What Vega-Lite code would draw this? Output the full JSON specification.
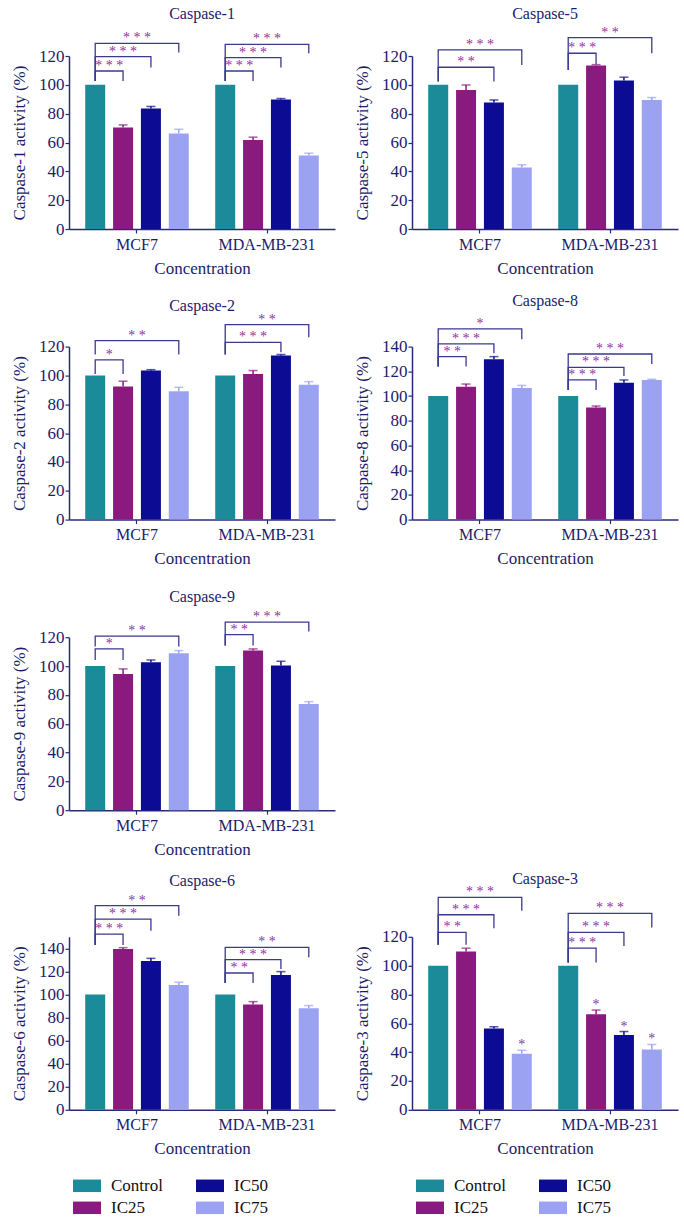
{
"$schema": "https://vega.github.io/schema/vega-lite/v6.json",
"padding": {"left": 10, "top": 5, "right": 3, "bottom": 5},
"datasets": {
"bars": [
{"p":"1","cell":"MCF7","g":"Control","v":100},
{"p":"1","cell":"MCF7","g":"IC25","v":70.4,"hi":72.2},
{"p":"1","cell":"MCF7","g":"IC50","v":83.6,"hi":85},
{"p":"1","cell":"MCF7","g":"IC75","v":66.3,"hi":69.2},
{"p":"1","cell":"MDA-MB-231","g":"Control","v":100},
{"p":"1","cell":"MDA-MB-231","g":"IC25","v":61.8,"hi":63.7},
{"p":"1","cell":"MDA-MB-231","g":"IC50","v":89.8,"hi":90.5},
{"p":"1","cell":"MDA-MB-231","g":"IC75","v":51,"hi":52.6},
{"p":"5","cell":"MCF7","g":"Control","v":100},
{"p":"5","cell":"MCF7","g":"IC25","v":96.5,"hi":99.9},
{"p":"5","cell":"MCF7","g":"IC50","v":87.7,"hi":89.5},
{"p":"5","cell":"MCF7","g":"IC75","v":42.7,"hi":44.5},
{"p":"5","cell":"MDA-MB-231","g":"Control","v":100},
{"p":"5","cell":"MDA-MB-231","g":"IC25","v":113.4,"hi":114},
{"p":"5","cell":"MDA-MB-231","g":"IC50","v":103,"hi":105.3},
{"p":"5","cell":"MDA-MB-231","g":"IC75","v":89.5,"hi":91.2},
{"p":"2","cell":"MCF7","g":"Control","v":100},
{"p":"2","cell":"MCF7","g":"IC25","v":92.3,"hi":96},
{"p":"2","cell":"MCF7","g":"IC50","v":103.4,"hi":104},
{"p":"2","cell":"MCF7","g":"IC75","v":89,"hi":91.8},
{"p":"2","cell":"MDA-MB-231","g":"Control","v":100},
{"p":"2","cell":"MDA-MB-231","g":"IC25","v":101,"hi":103.4},
{"p":"2","cell":"MDA-MB-231","g":"IC50","v":113.8,"hi":114.5},
{"p":"2","cell":"MDA-MB-231","g":"IC75","v":93.6,"hi":95.7},
{"p":"8","cell":"MCF7","g":"Control","v":100},
{"p":"8","cell":"MCF7","g":"IC25","v":107.6,"hi":109.7},
{"p":"8","cell":"MCF7","g":"IC50","v":129.7,"hi":131.9},
{"p":"8","cell":"MCF7","g":"IC75","v":106.5,"hi":108.6},
{"p":"8","cell":"MDA-MB-231","g":"Control","v":100},
{"p":"8","cell":"MDA-MB-231","g":"IC25","v":90.8,"hi":91.9},
{"p":"8","cell":"MDA-MB-231","g":"IC50","v":110.8,"hi":113},
{"p":"8","cell":"MDA-MB-231","g":"IC75","v":113,"hi":113.6},
{"p":"9","cell":"MCF7","g":"Control","v":100},
{"p":"9","cell":"MCF7","g":"IC25","v":94.5,"hi":98},
{"p":"9","cell":"MCF7","g":"IC50","v":102.6,"hi":104.2},
{"p":"9","cell":"MCF7","g":"IC75","v":108.9,"hi":110.7},
{"p":"9","cell":"MDA-MB-231","g":"Control","v":100},
{"p":"9","cell":"MDA-MB-231","g":"IC25","v":110.7,"hi":111.9},
{"p":"9","cell":"MDA-MB-231","g":"IC50","v":100.3,"hi":103.3},
{"p":"9","cell":"MDA-MB-231","g":"IC75","v":73.7,"hi":75.3},
{"p":"6","cell":"MCF7","g":"Control","v":100},
{"p":"6","cell":"MCF7","g":"IC25","v":139.4,"hi":140.6},
{"p":"6","cell":"MCF7","g":"IC50","v":129,"hi":131.3},
{"p":"6","cell":"MCF7","g":"IC75","v":108.3,"hi":110.6},
{"p":"6","cell":"MDA-MB-231","g":"Control","v":100},
{"p":"6","cell":"MDA-MB-231","g":"IC25","v":91.2,"hi":93.8},
{"p":"6","cell":"MDA-MB-231","g":"IC50","v":116.9,"hi":119.8},
{"p":"6","cell":"MDA-MB-231","g":"IC75","v":88,"hi":90.4},
{"p":"3","cell":"MCF7","g":"Control","v":100},
{"p":"3","cell":"MCF7","g":"IC25","v":109.8,"hi":112.1},
{"p":"3","cell":"MCF7","g":"IC50","v":56.4,"hi":57.6},
{"p":"3","cell":"MCF7","g":"IC75","v":38.8,"hi":41.3},
{"p":"3","cell":"MDA-MB-231","g":"Control","v":100},
{"p":"3","cell":"MDA-MB-231","g":"IC25","v":66.2,"hi":69.2},
{"p":"3","cell":"MDA-MB-231","g":"IC50","v":51.8,"hi":54.3},
{"p":"3","cell":"MDA-MB-231","g":"IC75","v":41.8,"hi":45.3}
],
"brk": [
{"p":"1","cell":"MCF7","id":"m1","o":1,"s":"Control","v":102.7},{"p":"1","cell":"MCF7","id":"m1","o":2,"s":"Control","v":109.6},{"p":"1","cell":"MCF7","id":"m1","o":3,"s":"IC25","v":109.6},{"p":"1","cell":"MCF7","id":"m1","o":4,"s":"IC25","v":102.7},
{"p":"1","cell":"MCF7","id":"m2","o":1,"s":"Control","v":102.7},{"p":"1","cell":"MCF7","id":"m2","o":2,"s":"Control","v":119.6},{"p":"1","cell":"MCF7","id":"m2","o":3,"s":"IC50","v":119.6},{"p":"1","cell":"MCF7","id":"m2","o":4,"s":"IC50","v":112},
{"p":"1","cell":"MCF7","id":"m3","o":1,"s":"Control","v":102.7},{"p":"1","cell":"MCF7","id":"m3","o":2,"s":"Control","v":128.8},{"p":"1","cell":"MCF7","id":"m3","o":3,"s":"IC75","v":128.8},{"p":"1","cell":"MCF7","id":"m3","o":4,"s":"IC75","v":122.4},
{"p":"1","cell":"MDA-MB-231","id":"d1","o":1,"s":"Control","v":102.7},{"p":"1","cell":"MDA-MB-231","id":"d1","o":2,"s":"Control","v":109.6},{"p":"1","cell":"MDA-MB-231","id":"d1","o":3,"s":"IC25","v":109.6},{"p":"1","cell":"MDA-MB-231","id":"d1","o":4,"s":"IC25","v":102.7},
{"p":"1","cell":"MDA-MB-231","id":"d2","o":1,"s":"Control","v":102.7},{"p":"1","cell":"MDA-MB-231","id":"d2","o":2,"s":"Control","v":118.9},{"p":"1","cell":"MDA-MB-231","id":"d2","o":3,"s":"IC50","v":118.9},{"p":"1","cell":"MDA-MB-231","id":"d2","o":4,"s":"IC50","v":112},
{"p":"1","cell":"MDA-MB-231","id":"d3","o":1,"s":"Control","v":102.7},{"p":"1","cell":"MDA-MB-231","id":"d3","o":2,"s":"Control","v":128.1},{"p":"1","cell":"MDA-MB-231","id":"d3","o":3,"s":"IC75","v":128.1},{"p":"1","cell":"MDA-MB-231","id":"d3","o":4,"s":"IC75","v":121.9},
{"p":"5","cell":"MCF7","id":"m1","o":1,"s":"Control","v":102.3},{"p":"5","cell":"MCF7","id":"m1","o":2,"s":"Control","v":112.2},{"p":"5","cell":"MCF7","id":"m1","o":3,"s":"IC50","v":112.2},{"p":"5","cell":"MCF7","id":"m1","o":4,"s":"IC50","v":102.3},
{"p":"5","cell":"MCF7","id":"m2","o":1,"s":"Control","v":102.3},{"p":"5","cell":"MCF7","id":"m2","o":2,"s":"Control","v":124.2},{"p":"5","cell":"MCF7","id":"m2","o":3,"s":"IC75","v":124.2},{"p":"5","cell":"MCF7","id":"m2","o":4,"s":"IC75","v":113.8},
{"p":"5","cell":"MDA-MB-231","id":"d1","o":1,"s":"Control","v":110.3},{"p":"5","cell":"MDA-MB-231","id":"d1","o":2,"s":"Control","v":121.9},{"p":"5","cell":"MDA-MB-231","id":"d1","o":3,"s":"IC25","v":121.9},{"p":"5","cell":"MDA-MB-231","id":"d1","o":4,"s":"IC25","v":114.5},
{"p":"5","cell":"MDA-MB-231","id":"d2","o":1,"s":"Control","v":110.3},{"p":"5","cell":"MDA-MB-231","id":"d2","o":2,"s":"Control","v":132.8},{"p":"5","cell":"MDA-MB-231","id":"d2","o":3,"s":"IC75","v":132.8},{"p":"5","cell":"MDA-MB-231","id":"d2","o":4,"s":"IC75","v":121.9},
{"p":"2","cell":"MCF7","id":"m1","o":1,"s":"Control","v":101},{"p":"2","cell":"MCF7","id":"m1","o":2,"s":"Control","v":110.8},{"p":"2","cell":"MCF7","id":"m1","o":3,"s":"IC25","v":110.8},{"p":"2","cell":"MCF7","id":"m1","o":4,"s":"IC25","v":101},
{"p":"2","cell":"MCF7","id":"m2","o":1,"s":"Control","v":114.5},{"p":"2","cell":"MCF7","id":"m2","o":2,"s":"Control","v":124.2},{"p":"2","cell":"MCF7","id":"m2","o":3,"s":"IC75","v":124.2},{"p":"2","cell":"MCF7","id":"m2","o":4,"s":"IC75","v":114.5},
{"p":"2","cell":"MDA-MB-231","id":"d1","o":1,"s":"Control","v":114.5},{"p":"2","cell":"MDA-MB-231","id":"d1","o":2,"s":"Control","v":123},{"p":"2","cell":"MDA-MB-231","id":"d1","o":3,"s":"IC50","v":123},{"p":"2","cell":"MDA-MB-231","id":"d1","o":4,"s":"IC50","v":116},
{"p":"2","cell":"MDA-MB-231","id":"d2","o":1,"s":"Control","v":114.5},{"p":"2","cell":"MDA-MB-231","id":"d2","o":2,"s":"Control","v":135.3},{"p":"2","cell":"MDA-MB-231","id":"d2","o":3,"s":"IC75","v":135.3},{"p":"2","cell":"MDA-MB-231","id":"d2","o":4,"s":"IC75","v":126.5},
{"p":"8","cell":"MCF7","id":"m1","o":1,"s":"Control","v":123.8},{"p":"8","cell":"MCF7","id":"m1","o":2,"s":"Control","v":131.9},{"p":"8","cell":"MCF7","id":"m1","o":3,"s":"IC25","v":131.9},{"p":"8","cell":"MCF7","id":"m1","o":4,"s":"IC25","v":123.8},
{"p":"8","cell":"MCF7","id":"m2","o":1,"s":"Control","v":123.8},{"p":"8","cell":"MCF7","id":"m2","o":2,"s":"Control","v":142.2},{"p":"8","cell":"MCF7","id":"m2","o":3,"s":"IC50","v":142.2},{"p":"8","cell":"MCF7","id":"m2","o":4,"s":"IC50","v":134.6},
{"p":"8","cell":"MCF7","id":"m3","o":1,"s":"Control","v":123.8},{"p":"8","cell":"MCF7","id":"m3","o":2,"s":"Control","v":154.3},{"p":"8","cell":"MCF7","id":"m3","o":3,"s":"IC75","v":154.3},{"p":"8","cell":"MCF7","id":"m3","o":4,"s":"IC75","v":146},
{"p":"8","cell":"MDA-MB-231","id":"d1","o":1,"s":"Control","v":104.9},{"p":"8","cell":"MDA-MB-231","id":"d1","o":2,"s":"Control","v":113},{"p":"8","cell":"MDA-MB-231","id":"d1","o":3,"s":"IC25","v":113},{"p":"8","cell":"MDA-MB-231","id":"d1","o":4,"s":"IC25","v":104.9},
{"p":"8","cell":"MDA-MB-231","id":"d2","o":1,"s":"Control","v":104.9},{"p":"8","cell":"MDA-MB-231","id":"d2","o":2,"s":"Control","v":123.2},{"p":"8","cell":"MDA-MB-231","id":"d2","o":3,"s":"IC50","v":123.2},{"p":"8","cell":"MDA-MB-231","id":"d2","o":4,"s":"IC50","v":116.2},
{"p":"8","cell":"MDA-MB-231","id":"d3","o":1,"s":"Control","v":104.9},{"p":"8","cell":"MDA-MB-231","id":"d3","o":2,"s":"Control","v":134},{"p":"8","cell":"MDA-MB-231","id":"d3","o":3,"s":"IC75","v":134},{"p":"8","cell":"MDA-MB-231","id":"d3","o":4,"s":"IC75","v":126},
{"p":"9","cell":"MCF7","id":"m1","o":1,"s":"Control","v":104.2},{"p":"9","cell":"MCF7","id":"m1","o":2,"s":"Control","v":111.9},{"p":"9","cell":"MCF7","id":"m1","o":3,"s":"IC25","v":111.9},{"p":"9","cell":"MCF7","id":"m1","o":4,"s":"IC25","v":104.2},
{"p":"9","cell":"MCF7","id":"m2","o":1,"s":"Control","v":113.5},{"p":"9","cell":"MCF7","id":"m2","o":2,"s":"Control","v":120.7},{"p":"9","cell":"MCF7","id":"m2","o":3,"s":"IC75","v":120.7},{"p":"9","cell":"MCF7","id":"m2","o":4,"s":"IC75","v":113.5},
{"p":"9","cell":"MDA-MB-231","id":"d1","o":1,"s":"Control","v":114.2},{"p":"9","cell":"MDA-MB-231","id":"d1","o":2,"s":"Control","v":121.8},{"p":"9","cell":"MDA-MB-231","id":"d1","o":3,"s":"IC25","v":121.8},{"p":"9","cell":"MDA-MB-231","id":"d1","o":4,"s":"IC25","v":114.2},
{"p":"9","cell":"MDA-MB-231","id":"d2","o":1,"s":"Control","v":114.2},{"p":"9","cell":"MDA-MB-231","id":"d2","o":2,"s":"Control","v":130.4},{"p":"9","cell":"MDA-MB-231","id":"d2","o":3,"s":"IC75","v":130.4},{"p":"9","cell":"MDA-MB-231","id":"d2","o":4,"s":"IC75","v":123.9},
{"p":"6","cell":"MCF7","id":"m1","o":1,"s":"Control","v":142.9},{"p":"6","cell":"MCF7","id":"m1","o":2,"s":"Control","v":152.4},{"p":"6","cell":"MCF7","id":"m1","o":3,"s":"IC25","v":152.4},{"p":"6","cell":"MCF7","id":"m1","o":4,"s":"IC25","v":142.9},
{"p":"6","cell":"MCF7","id":"m2","o":1,"s":"Control","v":142.9},{"p":"6","cell":"MCF7","id":"m2","o":2,"s":"Control","v":165.4},{"p":"6","cell":"MCF7","id":"m2","o":3,"s":"IC50","v":165.4},{"p":"6","cell":"MCF7","id":"m2","o":4,"s":"IC50","v":155.3},
{"p":"6","cell":"MCF7","id":"m3","o":1,"s":"Control","v":142.9},{"p":"6","cell":"MCF7","id":"m3","o":2,"s":"Control","v":177},{"p":"6","cell":"MCF7","id":"m3","o":3,"s":"IC75","v":177},{"p":"6","cell":"MCF7","id":"m3","o":4,"s":"IC75","v":168.3},
{"p":"6","cell":"MDA-MB-231","id":"d1","o":1,"s":"Control","v":110},{"p":"6","cell":"MDA-MB-231","id":"d1","o":2,"s":"Control","v":118.6},{"p":"6","cell":"MDA-MB-231","id":"d1","o":3,"s":"IC25","v":118.6},{"p":"6","cell":"MDA-MB-231","id":"d1","o":4,"s":"IC25","v":110},
{"p":"6","cell":"MDA-MB-231","id":"d2","o":1,"s":"Control","v":110},{"p":"6","cell":"MDA-MB-231","id":"d2","o":2,"s":"Control","v":130.2},{"p":"6","cell":"MDA-MB-231","id":"d2","o":3,"s":"IC50","v":130.2},{"p":"6","cell":"MDA-MB-231","id":"d2","o":4,"s":"IC50","v":122.1},
{"p":"6","cell":"MDA-MB-231","id":"d3","o":1,"s":"Control","v":110},{"p":"6","cell":"MDA-MB-231","id":"d3","o":2,"s":"Control","v":140.9},{"p":"6","cell":"MDA-MB-231","id":"d3","o":3,"s":"IC75","v":140.9},{"p":"6","cell":"MDA-MB-231","id":"d3","o":4,"s":"IC75","v":132.2},
{"p":"3","cell":"MCF7","id":"m1","o":1,"s":"Control","v":114.4},{"p":"3","cell":"MCF7","id":"m1","o":2,"s":"Control","v":123},{"p":"3","cell":"MCF7","id":"m1","o":3,"s":"IC25","v":123},{"p":"3","cell":"MCF7","id":"m1","o":4,"s":"IC25","v":114.4},
{"p":"3","cell":"MCF7","id":"m2","o":1,"s":"Control","v":114.4},{"p":"3","cell":"MCF7","id":"m2","o":2,"s":"Control","v":135.3},{"p":"3","cell":"MCF7","id":"m2","o":3,"s":"IC50","v":135.3},{"p":"3","cell":"MCF7","id":"m2","o":4,"s":"IC50","v":126},
{"p":"3","cell":"MCF7","id":"m3","o":1,"s":"Control","v":114.4},{"p":"3","cell":"MCF7","id":"m3","o":2,"s":"Control","v":147.4},{"p":"3","cell":"MCF7","id":"m3","o":3,"s":"IC75","v":147.4},{"p":"3","cell":"MCF7","id":"m3","o":4,"s":"IC75","v":138.1},
{"p":"3","cell":"MDA-MB-231","id":"d1","o":1,"s":"Control","v":102.1},{"p":"3","cell":"MDA-MB-231","id":"d1","o":2,"s":"Control","v":112.1},{"p":"3","cell":"MDA-MB-231","id":"d1","o":3,"s":"IC25","v":112.1},{"p":"3","cell":"MDA-MB-231","id":"d1","o":4,"s":"IC25","v":102.1},
{"p":"3","cell":"MDA-MB-231","id":"d2","o":1,"s":"Control","v":102.1},{"p":"3","cell":"MDA-MB-231","id":"d2","o":2,"s":"Control","v":123},{"p":"3","cell":"MDA-MB-231","id":"d2","o":3,"s":"IC50","v":123},{"p":"3","cell":"MDA-MB-231","id":"d2","o":4,"s":"IC50","v":113.7},
{"p":"3","cell":"MDA-MB-231","id":"d3","o":1,"s":"Control","v":102.1},{"p":"3","cell":"MDA-MB-231","id":"d3","o":2,"s":"Control","v":136.3},{"p":"3","cell":"MDA-MB-231","id":"d3","o":3,"s":"IC75","v":136.3},{"p":"3","cell":"MDA-MB-231","id":"d3","o":4,"s":"IC75","v":126.5}
],
"star": [
{"p":"1","cell":"MCF7","s":"Control|IC25","v":109.6,"t":"* * *"},
{"p":"1","cell":"MCF7","s":"IC25","v":119.6,"t":"* * *"},
{"p":"1","cell":"MCF7","s":"IC25|IC50","v":128.8,"t":"* * *"},
{"p":"1","cell":"MDA-MB-231","s":"Control|IC25","v":109.6,"t":"* * *"},
{"p":"1","cell":"MDA-MB-231","s":"IC25","v":118.9,"t":"* * *"},
{"p":"1","cell":"MDA-MB-231","s":"IC25|IC50","v":128.1,"t":"* * *"},
{"p":"5","cell":"MCF7","s":"IC25","v":112.2,"t":"* *"},
{"p":"5","cell":"MCF7","s":"IC25|IC50","v":124.2,"t":"* * *"},
{"p":"5","cell":"MDA-MB-231","s":"Control|IC25","v":121.9,"t":"* * *"},
{"p":"5","cell":"MDA-MB-231","s":"IC25|IC50","v":132.8,"t":"* *"},
{"p":"2","cell":"MCF7","s":"Control|IC25","v":110.8,"t":"*"},
{"p":"2","cell":"MCF7","s":"IC25|IC50","v":124.2,"t":"* *"},
{"p":"2","cell":"MDA-MB-231","s":"IC25","v":123,"t":"* * *"},
{"p":"2","cell":"MDA-MB-231","s":"IC25|IC50","v":135.3,"t":"* *"},
{"p":"8","cell":"MCF7","s":"Control|IC25","v":131.9,"t":"* *"},
{"p":"8","cell":"MCF7","s":"IC25","v":142.2,"t":"* * *"},
{"p":"8","cell":"MCF7","s":"IC25|IC50","v":154.3,"t":"*"},
{"p":"8","cell":"MDA-MB-231","s":"Control|IC25","v":113,"t":"* * *"},
{"p":"8","cell":"MDA-MB-231","s":"IC25","v":123.2,"t":"* * *"},
{"p":"8","cell":"MDA-MB-231","s":"IC25|IC50","v":134,"t":"* * *"},
{"p":"9","cell":"MCF7","s":"Control|IC25","v":111.9,"t":"*"},
{"p":"9","cell":"MCF7","s":"IC25|IC50","v":120.7,"t":"* *"},
{"p":"9","cell":"MDA-MB-231","s":"Control|IC25","v":121.8,"t":"* *"},
{"p":"9","cell":"MDA-MB-231","s":"IC25|IC50","v":130.4,"t":"* * *"},
{"p":"6","cell":"MCF7","s":"Control|IC25","v":152.4,"t":"* * *"},
{"p":"6","cell":"MCF7","s":"IC25","v":165.4,"t":"* * *"},
{"p":"6","cell":"MCF7","s":"IC25|IC50","v":177,"t":"* *"},
{"p":"6","cell":"MDA-MB-231","s":"Control|IC25","v":118.6,"t":"* *"},
{"p":"6","cell":"MDA-MB-231","s":"IC25","v":130.2,"t":"* * *"},
{"p":"6","cell":"MDA-MB-231","s":"IC25|IC50","v":140.9,"t":"* *"},
{"p":"3","cell":"MCF7","s":"Control|IC25","v":123,"t":"* *"},
{"p":"3","cell":"MCF7","s":"IC25","v":135.3,"t":"* * *"},
{"p":"3","cell":"MCF7","s":"IC25|IC50","v":147.4,"t":"* * *"},
{"p":"3","cell":"MDA-MB-231","s":"Control|IC25","v":112.1,"t":"* * *"},
{"p":"3","cell":"MDA-MB-231","s":"IC25","v":123,"t":"* * *"},
{"p":"3","cell":"MDA-MB-231","s":"IC25|IC50","v":136.3,"t":"* * *"},
{"p":"3","cell":"MCF7","s":"IC75","v":41.3,"t":"*"},
{"p":"3","cell":"MDA-MB-231","s":"IC25","v":69.2,"t":"*"},
{"p":"3","cell":"MDA-MB-231","s":"IC50","v":54.3,"t":"*"},
{"p":"3","cell":"MDA-MB-231","s":"IC75","v":45.3,"t":"*"}
]
},
"concat": [
{"title": {"text": "Caspase-1", "offset": 9}, "width": 266, "height": 173, "layer": [
{"data": {"name": "bars"}, "transform": [{"filter": "datum.p == '1'"}], "mark": {"type": "bar", "size": 20},
 "encoding": {"x": {"field": "cell", "type": "nominal", "title": "Concentration", "sort": ["MCF7", "MDA-MB-231"], "scale": {"paddingInner": 0.25, "paddingOuter": 0.148}},
  "xOffset": {"field": "g", "type": "nominal", "scale": {"domain": ["Control", "Control|IC25", "IC25", "IC25|IC50", "IC50", "IC50|IC75", "IC75"], "paddingInner": 0, "paddingOuter": 0}},
  "y": {"field": "v", "type": "quantitative", "title": "Caspase-1 activity (%)", "scale": {"domain": [0, 120], "nice": false}, "axis": {"values": [0, 20, 40, 60, 80, 100, 120]}},
  "color": {"field": "g", "type": "nominal", "scale": {"domain": ["Control", "IC50", "IC25", "IC75"], "range": ["#1b8b99", "#0b0b93", "#8a1a7e", "#9ca2f2"]}, "legend": null}}},
{"data": {"name": "bars"}, "transform": [{"filter": "datum.p == '1' && isValid(datum.hi)"}], "mark": {"type": "rule", "strokeWidth": 1.5},
 "encoding": {"x": {"field": "cell", "type": "nominal", "title": "Concentration"}, "xOffset": {"field": "g", "type": "nominal"}, "y": {"field": "v", "type": "quantitative", "title": "Caspase-1 activity (%)", "axis": {"values": [0, 20, 40, 60, 80, 100, 120]}}, "y2": {"field": "hi"}, "color": {"field": "g", "type": "nominal", "legend": null}}},
{"data": {"name": "bars"}, "transform": [{"filter": "datum.p == '1' && isValid(datum.hi)"}], "mark": {"type": "tick", "orient": "horizontal", "size": 9, "thickness": 1.5},
 "encoding": {"x": {"field": "cell", "type": "nominal", "title": "Concentration"}, "xOffset": {"field": "g", "type": "nominal"}, "y": {"field": "hi", "type": "quantitative", "title": "Caspase-1 activity (%)", "axis": {"values": [0, 20, 40, 60, 80, 100, 120]}}, "color": {"field": "g", "type": "nominal", "legend": null}}},
{"data": {"name": "brk"}, "transform": [{"filter": "datum.p == '1'"}], "mark": {"type": "line", "color": "#3a3a90", "strokeWidth": 1.3},
 "encoding": {"x": {"field": "cell", "type": "nominal", "title": "Concentration"}, "xOffset": {"field": "s", "type": "nominal"}, "y": {"field": "v", "type": "quantitative", "title": "Caspase-1 activity (%)", "axis": {"values": [0, 20, 40, 60, 80, 100, 120]}}, "detail": {"field": "id"}, "order": {"field": "o"}}},
{"data": {"name": "star"}, "transform": [{"filter": "datum.p == '1'"}], "mark": {"type": "text", "font": "Liberation Serif", "fontSize": 14, "color": "#8e3299", "baseline": "alphabetic", "dy": -1},
 "encoding": {"x": {"field": "cell", "type": "nominal", "title": "Concentration"}, "xOffset": {"field": "s", "type": "nominal"}, "y": {"field": "v", "type": "quantitative", "title": "Caspase-1 activity (%)", "axis": {"values": [0, 20, 40, 60, 80, 100, 120]}}, "text": {"field": "t"}}}
]},
{"title": {"text": "Caspase-5", "offset": 4}, "width": 266, "height": 173, "layer": [
{"data": {"name": "bars"}, "transform": [{"filter": "datum.p == '5'"}], "mark": {"type": "bar", "size": 20},
 "encoding": {"x": {"field": "cell", "type": "nominal", "title": "Concentration", "sort": ["MCF7", "MDA-MB-231"], "scale": {"paddingInner": 0.25, "paddingOuter": 0.148}},
  "xOffset": {"field": "g", "type": "nominal", "scale": {"domain": ["Control", "Control|IC25", "IC25", "IC25|IC50", "IC50", "IC50|IC75", "IC75"], "paddingInner": 0, "paddingOuter": 0}},
  "y": {"field": "v", "type": "quantitative", "title": "Caspase-5 activity (%)", "scale": {"domain": [0, 120], "nice": false}, "axis": {"values": [0, 20, 40, 60, 80, 100, 120]}},
  "color": {"field": "g", "type": "nominal", "scale": {"domain": ["Control", "IC50", "IC25", "IC75"], "range": ["#1b8b99", "#0b0b93", "#8a1a7e", "#9ca2f2"]}, "legend": null}}},
{"data": {"name": "bars"}, "transform": [{"filter": "datum.p == '5' && isValid(datum.hi)"}], "mark": {"type": "rule", "strokeWidth": 1.5},
 "encoding": {"x": {"field": "cell", "type": "nominal", "title": "Concentration"}, "xOffset": {"field": "g", "type": "nominal"}, "y": {"field": "v", "type": "quantitative", "title": "Caspase-5 activity (%)", "axis": {"values": [0, 20, 40, 60, 80, 100, 120]}}, "y2": {"field": "hi"}, "color": {"field": "g", "type": "nominal", "legend": null}}},
{"data": {"name": "bars"}, "transform": [{"filter": "datum.p == '5' && isValid(datum.hi)"}], "mark": {"type": "tick", "orient": "horizontal", "size": 9, "thickness": 1.5},
 "encoding": {"x": {"field": "cell", "type": "nominal", "title": "Concentration"}, "xOffset": {"field": "g", "type": "nominal"}, "y": {"field": "hi", "type": "quantitative", "title": "Caspase-5 activity (%)", "axis": {"values": [0, 20, 40, 60, 80, 100, 120]}}, "color": {"field": "g", "type": "nominal", "legend": null}}},
{"data": {"name": "brk"}, "transform": [{"filter": "datum.p == '5'"}], "mark": {"type": "line", "color": "#3a3a90", "strokeWidth": 1.3},
 "encoding": {"x": {"field": "cell", "type": "nominal", "title": "Concentration"}, "xOffset": {"field": "s", "type": "nominal"}, "y": {"field": "v", "type": "quantitative", "title": "Caspase-5 activity (%)", "axis": {"values": [0, 20, 40, 60, 80, 100, 120]}}, "detail": {"field": "id"}, "order": {"field": "o"}}},
{"data": {"name": "star"}, "transform": [{"filter": "datum.p == '5'"}], "mark": {"type": "text", "font": "Liberation Serif", "fontSize": 14, "color": "#8e3299", "baseline": "alphabetic", "dy": -1},
 "encoding": {"x": {"field": "cell", "type": "nominal", "title": "Concentration"}, "xOffset": {"field": "s", "type": "nominal"}, "y": {"field": "v", "type": "quantitative", "title": "Caspase-5 activity (%)", "axis": {"values": [0, 20, 40, 60, 80, 100, 120]}}, "text": {"field": "t"}}}
]},
{"title": {"text": "Caspase-2", "offset": -1}, "width": 266, "height": 173, "layer": [
{"data": {"name": "bars"}, "transform": [{"filter": "datum.p == '2'"}], "mark": {"type": "bar", "size": 20},
 "encoding": {"x": {"field": "cell", "type": "nominal", "title": "Concentration", "sort": ["MCF7", "MDA-MB-231"], "scale": {"paddingInner": 0.25, "paddingOuter": 0.148}},
  "xOffset": {"field": "g", "type": "nominal", "scale": {"domain": ["Control", "Control|IC25", "IC25", "IC25|IC50", "IC50", "IC50|IC75", "IC75"], "paddingInner": 0, "paddingOuter": 0}},
  "y": {"field": "v", "type": "quantitative", "title": "Caspase-2 activity (%)", "scale": {"domain": [0, 120], "nice": false}, "axis": {"values": [0, 20, 40, 60, 80, 100, 120]}},
  "color": {"field": "g", "type": "nominal", "scale": {"domain": ["Control", "IC50", "IC25", "IC75"], "range": ["#1b8b99", "#0b0b93", "#8a1a7e", "#9ca2f2"]}, "legend": null}}},
{"data": {"name": "bars"}, "transform": [{"filter": "datum.p == '2' && isValid(datum.hi)"}], "mark": {"type": "rule", "strokeWidth": 1.5},
 "encoding": {"x": {"field": "cell", "type": "nominal", "title": "Concentration"}, "xOffset": {"field": "g", "type": "nominal"}, "y": {"field": "v", "type": "quantitative", "title": "Caspase-2 activity (%)", "axis": {"values": [0, 20, 40, 60, 80, 100, 120]}}, "y2": {"field": "hi"}, "color": {"field": "g", "type": "nominal", "legend": null}}},
{"data": {"name": "bars"}, "transform": [{"filter": "datum.p == '2' && isValid(datum.hi)"}], "mark": {"type": "tick", "orient": "horizontal", "size": 9, "thickness": 1.5},
 "encoding": {"x": {"field": "cell", "type": "nominal", "title": "Concentration"}, "xOffset": {"field": "g", "type": "nominal"}, "y": {"field": "hi", "type": "quantitative", "title": "Caspase-2 activity (%)", "axis": {"values": [0, 20, 40, 60, 80, 100, 120]}}, "color": {"field": "g", "type": "nominal", "legend": null}}},
{"data": {"name": "brk"}, "transform": [{"filter": "datum.p == '2'"}], "mark": {"type": "line", "color": "#3a3a90", "strokeWidth": 1.3},
 "encoding": {"x": {"field": "cell", "type": "nominal", "title": "Concentration"}, "xOffset": {"field": "s", "type": "nominal"}, "y": {"field": "v", "type": "quantitative", "title": "Caspase-2 activity (%)", "axis": {"values": [0, 20, 40, 60, 80, 100, 120]}}, "detail": {"field": "id"}, "order": {"field": "o"}}},
{"data": {"name": "star"}, "transform": [{"filter": "datum.p == '2'"}], "mark": {"type": "text", "font": "Liberation Serif", "fontSize": 14, "color": "#8e3299", "baseline": "alphabetic", "dy": -1},
 "encoding": {"x": {"field": "cell", "type": "nominal", "title": "Concentration"}, "xOffset": {"field": "s", "type": "nominal"}, "y": {"field": "v", "type": "quantitative", "title": "Caspase-2 activity (%)", "axis": {"values": [0, 20, 40, 60, 80, 100, 120]}}, "text": {"field": "t"}}}
]},
{"title": {"text": "Caspase-8", "offset": 8}, "width": 266, "height": 173, "layer": [
{"data": {"name": "bars"}, "transform": [{"filter": "datum.p == '8'"}], "mark": {"type": "bar", "size": 20},
 "encoding": {"x": {"field": "cell", "type": "nominal", "title": "Concentration", "sort": ["MCF7", "MDA-MB-231"], "scale": {"paddingInner": 0.25, "paddingOuter": 0.148}},
  "xOffset": {"field": "g", "type": "nominal", "scale": {"domain": ["Control", "Control|IC25", "IC25", "IC25|IC50", "IC50", "IC50|IC75", "IC75"], "paddingInner": 0, "paddingOuter": 0}},
  "y": {"field": "v", "type": "quantitative", "title": "Caspase-8 activity (%)", "scale": {"domain": [0, 140], "nice": false}, "axis": {"values": [0, 20, 40, 60, 80, 100, 120, 140]}},
  "color": {"field": "g", "type": "nominal", "scale": {"domain": ["Control", "IC50", "IC25", "IC75"], "range": ["#1b8b99", "#0b0b93", "#8a1a7e", "#9ca2f2"]}, "legend": null}}},
{"data": {"name": "bars"}, "transform": [{"filter": "datum.p == '8' && isValid(datum.hi)"}], "mark": {"type": "rule", "strokeWidth": 1.5},
 "encoding": {"x": {"field": "cell", "type": "nominal", "title": "Concentration"}, "xOffset": {"field": "g", "type": "nominal"}, "y": {"field": "v", "type": "quantitative", "title": "Caspase-8 activity (%)", "axis": {"values": [0, 20, 40, 60, 80, 100, 120, 140]}}, "y2": {"field": "hi"}, "color": {"field": "g", "type": "nominal", "legend": null}}},
{"data": {"name": "bars"}, "transform": [{"filter": "datum.p == '8' && isValid(datum.hi)"}], "mark": {"type": "tick", "orient": "horizontal", "size": 9, "thickness": 1.5},
 "encoding": {"x": {"field": "cell", "type": "nominal", "title": "Concentration"}, "xOffset": {"field": "g", "type": "nominal"}, "y": {"field": "hi", "type": "quantitative", "title": "Caspase-8 activity (%)", "axis": {"values": [0, 20, 40, 60, 80, 100, 120, 140]}}, "color": {"field": "g", "type": "nominal", "legend": null}}},
{"data": {"name": "brk"}, "transform": [{"filter": "datum.p == '8'"}], "mark": {"type": "line", "color": "#3a3a90", "strokeWidth": 1.3},
 "encoding": {"x": {"field": "cell", "type": "nominal", "title": "Concentration"}, "xOffset": {"field": "s", "type": "nominal"}, "y": {"field": "v", "type": "quantitative", "title": "Caspase-8 activity (%)", "axis": {"values": [0, 20, 40, 60, 80, 100, 120, 140]}}, "detail": {"field": "id"}, "order": {"field": "o"}}},
{"data": {"name": "star"}, "transform": [{"filter": "datum.p == '8'"}], "mark": {"type": "text", "font": "Liberation Serif", "fontSize": 14, "color": "#8e3299", "baseline": "alphabetic", "dy": -1},
 "encoding": {"x": {"field": "cell", "type": "nominal", "title": "Concentration"}, "xOffset": {"field": "s", "type": "nominal"}, "y": {"field": "v", "type": "quantitative", "title": "Caspase-8 activity (%)", "axis": {"values": [0, 20, 40, 60, 80, 100, 120, 140]}}, "text": {"field": "t"}}}
]},
{"title": {"text": "Caspase-9", "offset": 5}, "width": 266, "height": 173, "layer": [
{"data": {"name": "bars"}, "transform": [{"filter": "datum.p == '9'"}], "mark": {"type": "bar", "size": 20},
 "encoding": {"x": {"field": "cell", "type": "nominal", "title": "Concentration", "sort": ["MCF7", "MDA-MB-231"], "scale": {"paddingInner": 0.25, "paddingOuter": 0.148}},
  "xOffset": {"field": "g", "type": "nominal", "scale": {"domain": ["Control", "Control|IC25", "IC25", "IC25|IC50", "IC50", "IC50|IC75", "IC75"], "paddingInner": 0, "paddingOuter": 0}},
  "y": {"field": "v", "type": "quantitative", "title": "Caspase-9 activity (%)", "scale": {"domain": [0, 120], "nice": false}, "axis": {"values": [0, 20, 40, 60, 80, 100, 120]}},
  "color": {"field": "g", "type": "nominal", "scale": {"domain": ["Control", "IC50", "IC25", "IC75"], "range": ["#1b8b99", "#0b0b93", "#8a1a7e", "#9ca2f2"]}, "legend": null}}},
{"data": {"name": "bars"}, "transform": [{"filter": "datum.p == '9' && isValid(datum.hi)"}], "mark": {"type": "rule", "strokeWidth": 1.5},
 "encoding": {"x": {"field": "cell", "type": "nominal", "title": "Concentration"}, "xOffset": {"field": "g", "type": "nominal"}, "y": {"field": "v", "type": "quantitative", "title": "Caspase-9 activity (%)", "axis": {"values": [0, 20, 40, 60, 80, 100, 120]}}, "y2": {"field": "hi"}, "color": {"field": "g", "type": "nominal", "legend": null}}},
{"data": {"name": "bars"}, "transform": [{"filter": "datum.p == '9' && isValid(datum.hi)"}], "mark": {"type": "tick", "orient": "horizontal", "size": 9, "thickness": 1.5},
 "encoding": {"x": {"field": "cell", "type": "nominal", "title": "Concentration"}, "xOffset": {"field": "g", "type": "nominal"}, "y": {"field": "hi", "type": "quantitative", "title": "Caspase-9 activity (%)", "axis": {"values": [0, 20, 40, 60, 80, 100, 120]}}, "color": {"field": "g", "type": "nominal", "legend": null}}},
{"data": {"name": "brk"}, "transform": [{"filter": "datum.p == '9'"}], "mark": {"type": "line", "color": "#3a3a90", "strokeWidth": 1.3},
 "encoding": {"x": {"field": "cell", "type": "nominal", "title": "Concentration"}, "xOffset": {"field": "s", "type": "nominal"}, "y": {"field": "v", "type": "quantitative", "title": "Caspase-9 activity (%)", "axis": {"values": [0, 20, 40, 60, 80, 100, 120]}}, "detail": {"field": "id"}, "order": {"field": "o"}}},
{"data": {"name": "star"}, "transform": [{"filter": "datum.p == '9'"}], "mark": {"type": "text", "font": "Liberation Serif", "fontSize": 14, "color": "#8e3299", "baseline": "alphabetic", "dy": -1},
 "encoding": {"x": {"field": "cell", "type": "nominal", "title": "Concentration"}, "xOffset": {"field": "s", "type": "nominal"}, "y": {"field": "v", "type": "quantitative", "title": "Caspase-9 activity (%)", "axis": {"values": [0, 20, 40, 60, 80, 100, 120]}}, "text": {"field": "t"}}}
]},
{"width": 266, "height": 181.5, "data": {"values": []}, "mark": {"type": "point", "opacity": 0}},
{"title": {"text": "Caspase-6", "offset": 5}, "width": 266, "height": 173, "layer": [
{"data": {"name": "bars"}, "transform": [{"filter": "datum.p == '6'"}], "mark": {"type": "bar", "size": 20},
 "encoding": {"x": {"field": "cell", "type": "nominal", "title": "Concentration", "sort": ["MCF7", "MDA-MB-231"], "scale": {"paddingInner": 0.25, "paddingOuter": 0.148}},
  "xOffset": {"field": "g", "type": "nominal", "scale": {"domain": ["Control", "Control|IC25", "IC25", "IC25|IC50", "IC50", "IC50|IC75", "IC75"], "paddingInner": 0, "paddingOuter": 0}},
  "y": {"field": "v", "type": "quantitative", "title": "Caspase-6 activity (%)", "scale": {"domain": [0, 150], "nice": false}, "axis": {"values": [0, 20, 40, 60, 80, 100, 120, 140]}},
  "color": {"field": "g", "type": "nominal", "scale": {"domain": ["Control", "IC50", "IC25", "IC75"], "range": ["#1b8b99", "#0b0b93", "#8a1a7e", "#9ca2f2"]},
   "legend": {"title": null, "orient": "bottom", "columns": 2, "padding": 4, "symbolType": "M-1,-0.446H1V0.446H-1Z", "symbolSize": 784, "symbolStrokeWidth": 0, "symbolOpacity": 1, "labelFont": "Liberation Serif", "labelFontSize": 17, "labelColor": "#111111", "labelOffset": 10, "columnPadding": 33, "rowPadding": -1, "offset": 11}}}},
{"data": {"name": "bars"}, "transform": [{"filter": "datum.p == '6' && isValid(datum.hi)"}], "mark": {"type": "rule", "strokeWidth": 1.5},
 "encoding": {"x": {"field": "cell", "type": "nominal", "title": "Concentration"}, "xOffset": {"field": "g", "type": "nominal"}, "y": {"field": "v", "type": "quantitative", "title": "Caspase-6 activity (%)", "axis": {"values": [0, 20, 40, 60, 80, 100, 120, 140]}}, "y2": {"field": "hi"}, "color": {"field": "g", "type": "nominal", "legend": null}}},
{"data": {"name": "bars"}, "transform": [{"filter": "datum.p == '6' && isValid(datum.hi)"}], "mark": {"type": "tick", "orient": "horizontal", "size": 9, "thickness": 1.5},
 "encoding": {"x": {"field": "cell", "type": "nominal", "title": "Concentration"}, "xOffset": {"field": "g", "type": "nominal"}, "y": {"field": "hi", "type": "quantitative", "title": "Caspase-6 activity (%)", "axis": {"values": [0, 20, 40, 60, 80, 100, 120, 140]}}, "color": {"field": "g", "type": "nominal", "legend": null}}},
{"data": {"name": "brk"}, "transform": [{"filter": "datum.p == '6'"}], "mark": {"type": "line", "color": "#3a3a90", "strokeWidth": 1.3},
 "encoding": {"x": {"field": "cell", "type": "nominal", "title": "Concentration"}, "xOffset": {"field": "s", "type": "nominal"}, "y": {"field": "v", "type": "quantitative", "title": "Caspase-6 activity (%)", "axis": {"values": [0, 20, 40, 60, 80, 100, 120, 140]}}, "detail": {"field": "id"}, "order": {"field": "o"}}},
{"data": {"name": "star"}, "transform": [{"filter": "datum.p == '6'"}], "mark": {"type": "text", "font": "Liberation Serif", "fontSize": 14, "color": "#8e3299", "baseline": "alphabetic", "dy": -1},
 "encoding": {"x": {"field": "cell", "type": "nominal", "title": "Concentration"}, "xOffset": {"field": "s", "type": "nominal"}, "y": {"field": "v", "type": "quantitative", "title": "Caspase-6 activity (%)", "axis": {"values": [0, 20, 40, 60, 80, 100, 120, 140]}}, "text": {"field": "t"}}}
]},
{"title": {"text": "Caspase-3", "offset": -2}, "width": 266, "height": 173, "layer": [
{"data": {"name": "bars"}, "transform": [{"filter": "datum.p == '3'"}], "mark": {"type": "bar", "size": 20},
 "encoding": {"x": {"field": "cell", "type": "nominal", "title": "Concentration", "sort": ["MCF7", "MDA-MB-231"], "scale": {"paddingInner": 0.25, "paddingOuter": 0.148}},
  "xOffset": {"field": "g", "type": "nominal", "scale": {"domain": ["Control", "Control|IC25", "IC25", "IC25|IC50", "IC50", "IC50|IC75", "IC75"], "paddingInner": 0, "paddingOuter": 0}},
  "y": {"field": "v", "type": "quantitative", "title": "Caspase-3 activity (%)", "scale": {"domain": [0, 120], "nice": false}, "axis": {"values": [0, 20, 40, 60, 80, 100, 120]}},
  "color": {"field": "g", "type": "nominal", "scale": {"domain": ["Control", "IC50", "IC25", "IC75"], "range": ["#1b8b99", "#0b0b93", "#8a1a7e", "#9ca2f2"]},
   "legend": {"title": null, "orient": "bottom", "columns": 2, "padding": 4, "symbolType": "M-1,-0.446H1V0.446H-1Z", "symbolSize": 784, "symbolStrokeWidth": 0, "symbolOpacity": 1, "labelFont": "Liberation Serif", "labelFontSize": 17, "labelColor": "#111111", "labelOffset": 10, "columnPadding": 33, "rowPadding": -1, "offset": 11}}}},
{"data": {"name": "bars"}, "transform": [{"filter": "datum.p == '3' && isValid(datum.hi)"}], "mark": {"type": "rule", "strokeWidth": 1.5},
 "encoding": {"x": {"field": "cell", "type": "nominal", "title": "Concentration"}, "xOffset": {"field": "g", "type": "nominal"}, "y": {"field": "v", "type": "quantitative", "title": "Caspase-3 activity (%)", "axis": {"values": [0, 20, 40, 60, 80, 100, 120]}}, "y2": {"field": "hi"}, "color": {"field": "g", "type": "nominal", "legend": null}}},
{"data": {"name": "bars"}, "transform": [{"filter": "datum.p == '3' && isValid(datum.hi)"}], "mark": {"type": "tick", "orient": "horizontal", "size": 9, "thickness": 1.5},
 "encoding": {"x": {"field": "cell", "type": "nominal", "title": "Concentration"}, "xOffset": {"field": "g", "type": "nominal"}, "y": {"field": "hi", "type": "quantitative", "title": "Caspase-3 activity (%)", "axis": {"values": [0, 20, 40, 60, 80, 100, 120]}}, "color": {"field": "g", "type": "nominal", "legend": null}}},
{"data": {"name": "brk"}, "transform": [{"filter": "datum.p == '3'"}], "mark": {"type": "line", "color": "#3a3a90", "strokeWidth": 1.3},
 "encoding": {"x": {"field": "cell", "type": "nominal", "title": "Concentration"}, "xOffset": {"field": "s", "type": "nominal"}, "y": {"field": "v", "type": "quantitative", "title": "Caspase-3 activity (%)", "axis": {"values": [0, 20, 40, 60, 80, 100, 120]}}, "detail": {"field": "id"}, "order": {"field": "o"}}},
{"data": {"name": "star"}, "transform": [{"filter": "datum.p == '3'"}], "mark": {"type": "text", "font": "Liberation Serif", "fontSize": 14, "color": "#8e3299", "baseline": "alphabetic", "dy": -1},
 "encoding": {"x": {"field": "cell", "type": "nominal", "title": "Concentration"}, "xOffset": {"field": "s", "type": "nominal"}, "y": {"field": "v", "type": "quantitative", "title": "Caspase-3 activity (%)", "axis": {"values": [0, 20, 40, 60, 80, 100, 120]}}, "text": {"field": "t"}}}
]}
],
"columns": 2,
"spacing": {"row": 117.6, "column": 77},
"bounds": "flush",
"resolve": {"scale": {"color": "independent"}, "legend": {"color": "independent"}},
"config": {
 "font": "Liberation Serif",
 "view": {"stroke": null},
 "axis": {"grid": false, "labelFont": "Liberation Serif", "titleFont": "Liberation Serif", "labelColor": "#1c1c6b", "titleColor": "#1c1c6b", "domainColor": "#2a2a7a", "tickColor": "#2a2a7a", "domainWidth": 1.5, "tickWidth": 1.2, "titleFontWeight": "normal", "labelOverlap": false},
 "axisX": {"labelAngle": 0, "labelFontSize": 16, "titleFontSize": 17, "tickSize": 4, "labelPadding": 3, "titlePadding": 8},
 "axisY": {"labelFontSize": 17, "titleFontSize": 17, "tickSize": 4, "labelPadding": 1, "titlePadding": 10},
 "legend": {"labelFont": "Liberation Serif"},
 "title": {"font": "Liberation Serif", "fontSize": 16, "fontWeight": "normal", "color": "#1c1c6b"}
}
}
